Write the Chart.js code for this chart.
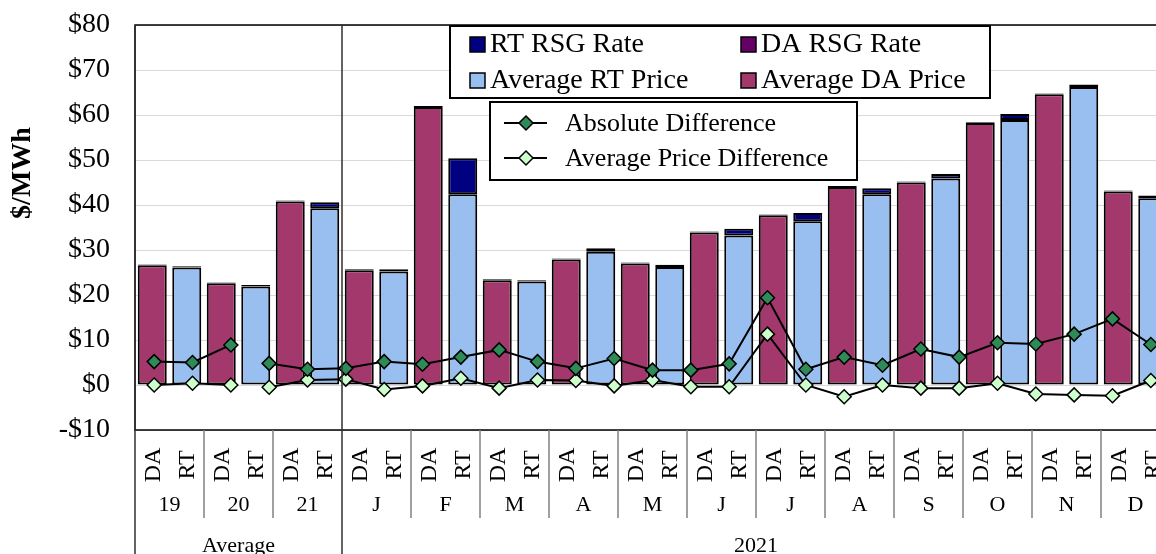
<!DOCTYPE html>
<html>
<head>
<meta charset="utf-8">
<script src="https://cdn.jsdelivr.net/npm/chart.js@4.4.1/dist/chart.umd.min.js"></script>
<style>
  html, body { margin: 0; padding: 0; background: #fff; overflow: hidden; }
  #wrap { position: absolute; left: 0; top: 0; width: 1180px; height: 554px; }
</style>
</head>
<body>
<div id="wrap"><canvas id="grafico" width="1180" height="554"></canvas></div>
<script>
// DATOS
const grupos = ["19", "20", "21", "J", "F", "M", "A", "M", "J", "J", "A", "S", "O", "N", "D"];
const tipos = ["DA", "RT"];
const periodos = ["Average", "2021"];
const gruposPromedio = 3; // los tres primeros grupos son "Average"

const promedioDA = [26.6, 22.6, 40.8, 25.5, 61.8, 23.3, 27.9, 27.0, 33.9, 37.7, 44.0, 45.0, 58.2, 64.6, 43.0];
const rsgDA      = [0.2, 0.2, 0.2, 0.2, 0.2, 0.2, 0.2, 0.2, 0.2, 0.2, 0.2, 0.2, 0.2, 0.2, 0.2];
const promedioRT = [26.1, 21.9, 39.3, 25.2, 42.4, 23.0, 29.6, 26.2, 33.2, 36.4, 42.4, 45.9, 58.9, 66.2, 41.5];
const rsgRT      = [0.3, 0.3, 1.3, 0.5, 8.0, 0.3, 0.8, 0.5, 1.5, 1.8, 1.3, 1.0, 1.3, 0.6, 0.6];

const difAbsoluta = [5.2, 5.0, 8.9, 4.8, 3.5, 3.7, 5.2, 4.6, 6.2, 7.8, 5.2, 3.7, 5.9, 3.3,
                     3.3, 4.7, 19.4, 3.5, 6.2, 4.4, 8.0, 6.2, 9.4, 9.1, 11.3, 14.7, 9.0];
const difPromedio = [0.0, 0.4, 0.0, -0.5, 1.1, 1.3, -1.0, -0.2, 1.5, -0.7, 1.1, 1.0, -0.2, 1.1,
                     -0.4, -0.4, 11.3, 0.0, -2.6, 0.0, -0.7, -0.7, 0.4, -2.0, -2.2, -2.4, 1.0];
const cortePuntos = 2; // la linea no une el punto 2 con el 3

const yMin = -10, yMax = 80, yPaso = 10;
// DATOS END

const FUENTE = "'Liberation Serif', 'Times New Roman', serif";
const colores = {
  promedioDA: "#A3386C",
  rsgDA: "#660066",
  promedioRT: "#99BFF0",
  rsgRT: "#000080",
  absoluta: "#2E8B57",
  promedio: "#CCFFCC",
};

// etiquetas de 30 categorias (DA / RT por grupo)
const etiquetas = [];
grupos.forEach((g) => tipos.forEach((t) => etiquetas.push(g + " " + t)));
const etiquetasPuntos = difAbsoluta.map((v, i) => String(i));

function porTipo(valores, tipo) {
  const salida = [];
  valores.forEach((v) => {
    salida.push(tipo === "DA" ? v : null);
    salida.push(tipo === "RT" ? v : null);
  });
  return salida;
}

function barra(label, data, color) {
  return {
    type: "bar",
    label: label,
    data: data,
    backgroundColor: color,
    borderColor: "#000",
    borderWidth: 2,
    borderSkipped: false,
    stack: "precio",
    grouped: false,
    barPercentage: 0.84,
    categoryPercentage: 1,
    order: 2,
  };
}

function linea(label, data, color, pila) {
  return {
    type: "line",
    label: label,
    data: data,
    xAxisID: "x2",
    stack: pila,
    borderColor: "#000",
    borderWidth: 2,
    backgroundColor: color,
    pointStyle: "rectRot",
    pointRadius: 7,
    pointBorderColor: "#000",
    pointBorderWidth: 1.5,
    pointBackgroundColor: color,
    tension: 0,
    order: 0,
    segment: {
      borderColor: (ctx) => (ctx.p0DataIndex === cortePuntos ? "rgba(0,0,0,0)" : "#000"),
    },
  };
}

// MARCO Y EJE X -------------------------------------------
const marco = {
  id: "marco",
  afterDatasetsDraw(chart) {
    const ctx = chart.ctx;
    const a = chart.chartArea;
    const x = chart.scales.x;
    const alto = chart.height;
    ctx.save();

    // bordes del area
    ctx.strokeStyle = "#000";
    ctx.lineWidth = 1.5;
    ctx.strokeRect(a.left, a.top, a.right - a.left, a.bottom - a.top);

    // limites de grupos
    const limites = [];
    for (let g = 1; g < grupos.length; g++) {
      limites.push((x.getPixelForValue(2 * g - 1) + x.getPixelForValue(2 * g)) / 2);
    }
    ctx.strokeStyle = "#808080";
    ctx.lineWidth = 1.5;
    limites.forEach((px, i) => {
      if (i === gruposPromedio - 1) return;
      ctx.beginPath();
      ctx.moveTo(px, a.bottom);
      ctx.lineTo(px, 518);
      ctx.stroke();
    });

    // separador Average / 2021 y borde izquierdo
    const sep = limites[gruposPromedio - 1];
    ctx.strokeStyle = "#303030";
    ctx.beginPath();
    ctx.moveTo(sep, a.top);
    ctx.lineTo(sep, alto);
    ctx.moveTo(a.left, a.top);
    ctx.lineTo(a.left, alto);
    ctx.stroke();

    // DA / RT rotados
    ctx.fillStyle = "#000";
    ctx.font = "24px " + FUENTE;
    ctx.textAlign = "center";
    ctx.textBaseline = "middle";
    etiquetas.forEach((e, i) => {
      ctx.save();
      ctx.translate(x.getPixelForValue(i) + 1, 465);
      ctx.rotate(-Math.PI / 2);
      ctx.fillText(tipos[i % 2], 0, 0);
      ctx.restore();
    });

    // grupos
    ctx.font = "22px " + FUENTE;
    grupos.forEach((g, i) => {
      const cx = (x.getPixelForValue(2 * i) + x.getPixelForValue(2 * i + 1)) / 2;
      ctx.fillText(g, cx, 505);
    });

    // periodos
    ctx.font = "22px " + FUENTE;
    ctx.fillText(periodos[0], (a.left + sep) / 2, 546);
    ctx.fillText(periodos[1], (sep + a.right) / 2, 546);

    // titulo eje y
    ctx.save();
    ctx.translate(23, 173);
    ctx.rotate(-Math.PI / 2);
    ctx.font = "bold 28px " + FUENTE;
    ctx.fillText("$/MWh", 0, 0);
    ctx.restore();

    ctx.restore();
  },
};

// LEYENDAS ------------------------------------------------
const leyendas = {
  id: "leyendas",
  afterDraw(chart) {
    const ctx = chart.ctx;
    ctx.save();
    ctx.textAlign = "left";
    ctx.textBaseline = "middle";

    // caja superior (barras)
    ctx.fillStyle = "#fff";
    ctx.fillRect(450, 26, 540, 72);
    ctx.strokeStyle = "#000";
    ctx.lineWidth = 2;
    ctx.strokeRect(450, 26, 540, 72);
    const items = [
      ["RT RSG Rate", colores.rsgRT, 470, 44],
      ["DA RSG Rate", colores.rsgDA, 741, 44],
      ["Average RT Price", colores.promedioRT, 470, 80],
      ["Average DA Price", colores.promedioDA, 741, 80],
    ];
    ctx.font = "28px " + FUENTE;
    items.forEach(([txt, col, px, py]) => {
      ctx.fillStyle = col;
      ctx.fillRect(px, py - 7, 15, 15);
      ctx.strokeStyle = "#000";
      ctx.lineWidth = 1.5;
      ctx.strokeRect(px, py - 7, 15, 15);
      ctx.fillStyle = "#000";
      ctx.fillText(txt, px + 20, py + 1);
    });

    // caja inferior (lineas)
    ctx.fillStyle = "#fff";
    ctx.fillRect(490, 102, 367, 78);
    ctx.strokeStyle = "#000";
    ctx.lineWidth = 2;
    ctx.strokeRect(490, 102, 367, 78);
    const lineas = [
      ["Absolute Difference", colores.absoluta, 123],
      ["Average Price Difference", colores.promedio, 158],
    ];
    ctx.font = "26px " + FUENTE;
    lineas.forEach(([txt, col, py]) => {
      ctx.strokeStyle = "#000";
      ctx.lineWidth = 2;
      ctx.beginPath();
      ctx.moveTo(504, py);
      ctx.lineTo(547, py);
      ctx.stroke();
      ctx.beginPath();
      ctx.moveTo(526, py - 7);
      ctx.lineTo(533, py);
      ctx.lineTo(526, py + 7);
      ctx.lineTo(519, py);
      ctx.closePath();
      ctx.fillStyle = col;
      ctx.fill();
      ctx.lineWidth = 1.5;
      ctx.stroke();
      ctx.fillStyle = "#000";
      ctx.fillText(txt, 565, py + 1);
    });
    ctx.restore();
  },
};

// GRAFICO ---------------------------------------------------
function grafico() {
  const config = {
    data: {
      labels: etiquetas,
      datasets: [
        barra("Average DA Price", porTipo(promedioDA, "DA"), colores.promedioDA),
        barra("DA RSG Rate", porTipo(rsgDA, "DA"), colores.rsgDA),
        barra("Average RT Price", porTipo(promedioRT, "RT"), colores.promedioRT),
        barra("RT RSG Rate", porTipo(rsgRT, "RT"), colores.rsgRT),
        linea("Absolute Difference", difAbsoluta, colores.absoluta, "dif1"),
        linea("Average Price Difference", difPromedio, colores.promedio, "dif2"),
      ],
    },
    options: {
      responsive: false,
      animation: false,
      layout: { padding: { top: 25, right: 10, left: 0, bottom: 0 } },
      plugins: { legend: { display: false }, tooltip: { enabled: false } },
      scales: {
        x: {
          stacked: true,
          offset: true,
          grid: { display: false },
          border: { display: false },
          ticks: { display: false },
          afterFit: (s) => { s.height = 124; },
        },
        x2: {
          type: "category",
          labels: etiquetasPuntos,
          offset: true,
          display: false,
        },
        y: {
          stacked: true,
          min: yMin,
          max: yMax,
          border: { display: false },
          grid: { color: "#d9d9d9", lineWidth: 1, drawTicks: false },
          ticks: {
            stepSize: yPaso,
            padding: 25,
            color: "#000",
            font: { family: FUENTE, size: 28 },
            callback: (v) => (v < 0 ? "-$" + Math.abs(v) : "$" + v),
          },
          afterFit: (s) => {
            s.width = 135;
            s.paddingTop = 0;
            s.paddingBottom = 0;
          },
        },
      },
    },
    plugins: [marco, leyendas],
  };
  new Chart(document.getElementById("grafico"), config);
}
grafico();
</script>
</body>
</html>
